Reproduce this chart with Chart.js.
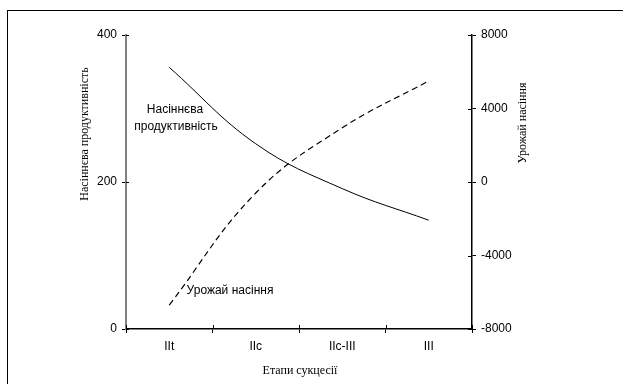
<!DOCTYPE html>
<html>
<head>
<meta charset="utf-8">
<script src="https://cdn.jsdelivr.net/npm/chart.js@4/dist/chart.umd.min.js"></script>
<style>
    html, body { margin: 0; padding: 0; background: #fff; }
    #wrap { width: 623px; height: 384px; }
</style>
</head>
<body>
<div id="wrap"><canvas id="graph_succession" width="623" height="384"></canvas></div>
<script>
// дані з графіка
var stages = ['IIt', 'IIc', 'IIc-III', 'III'];
var seedProductivity = [356, 252, 191, 148];
var seedYield = [-6700, -600, 2950, 5500];
var leftTicks = [0, 200, 400];
var rightTicks = [-8000, -4000, 0, 4000, 8000];

var SANS = '"Liberation Sans", Arial, sans-serif';
var SERIF = '"Liberation Serif", "Times New Roman", serif';

function setTicks(values) {
    return function (scale) {
        scale.ticks = values.map(function (v) { return { value: v }; });
    };
}
function plainNumber(value) {
    return String(value);
}

// рамка, підписи осей, підписи кривих
var decorPlugin = {
    id: 'decor',
    afterDraw: function (chart) {
        var ctx = chart.ctx;
        var area = chart.chartArea;
        var x = chart.scales.x;
        var yR = chart.scales.y2;
        var yL = chart.scales.y;
        ctx.save();

        ctx.strokeStyle = '#000';
        ctx.lineWidth = 1;
        ctx.strokeRect(7.5, 10.5, 700, 500);

        // внутрішні частини рисок
        ctx.beginPath();
        for (var i = 0; i <= stages.length; i++) {
            var px = Math.round(x.getPixelForValue(i - 0.5)) + 0.5;
            ctx.moveTo(px, area.bottom);
            ctx.lineTo(px, area.bottom - 4);
        }
        rightTicks.forEach(function (v) {
            var py = Math.round(yR.getPixelForValue(v)) + 0.5;
            ctx.moveTo(area.right, py);
            ctx.lineTo(area.right - 4, py);
        });
        leftTicks.forEach(function (v) {
            var py = Math.round(yL.getPixelForValue(v)) + 0.5;
            ctx.moveTo(area.left, py);
            ctx.lineTo(area.left + 3, py);
        });
        ctx.stroke();

        ctx.fillStyle = '#000';
        ctx.textAlign = 'center';
        ctx.textBaseline = 'middle';

        ctx.font = '12px ' + SANS;
        ctx.fillText('Насіннєва', 175, 110);
        ctx.fillText('продуктивність', 176, 127);
        ctx.fillText('Урожай насіння', 230, 291);

        ctx.font = '12px ' + SERIF;
        ctx.fillText('Етапи сукцесії', 300, 371);

        ctx.save();
        ctx.translate(85, 134);
        ctx.rotate(-Math.PI / 2);
        ctx.fillText('Насіннєва продуктивність', 0, 0);
        ctx.restore();

        ctx.save();
        ctx.translate(523, 123);
        ctx.rotate(-Math.PI / 2);
        ctx.fillText('Урожай насіння', 0, 0);
        ctx.restore();

        ctx.restore();
    }
};

var ctx = document.getElementById('graph_succession').getContext('2d');
var chart = new Chart(ctx, {
    type: 'line',
    data: {
        labels: stages,
        datasets: [{
            label: 'Насіннєва продуктивність',
            data: seedProductivity,
            yAxisID: 'y',
            borderColor: '#000',
            borderWidth: 1,
            pointRadius: 0,
            tension: 0.4,
            fill: false
        }, {
            label: 'Урожай насіння',
            data: seedYield,
            yAxisID: 'y2',
            borderColor: '#000',
            borderWidth: 1.2,
            borderDash: [6, 4],
            pointRadius: 0,
            tension: 0.4,
            fill: false
        }]
    },
    options: {
        responsive: false,
        animation: false,
        devicePixelRatio: 1,
        layout: { padding: { top: 35, left: 0, right: 0, bottom: 0 } },
        plugins: {
            legend: { display: false },
            tooltip: { enabled: false }
        },
        scales: {
            x: {
                type: 'category',
                offset: true,
                grid: { offset: true, drawOnChartArea: false, tickLength: 4, color: '#000' },
                border: { color: '#000', width: 1.5 },
                ticks: { color: '#000', font: { family: SANS, size: 12 }, padding: 6, maxRotation: 0 },
                afterFit: function (scale) { scale.height = 55; }
            },
            y: {
                position: 'left',
                min: 0,
                max: 400,
                afterBuildTicks: setTicks(leftTicks),
                grid: { drawOnChartArea: false, tickLength: 4, color: '#000' },
                border: { color: '#808080', width: 2 },
                ticks: { color: '#000', font: { family: SANS, size: 12 }, padding: 5, callback: plainNumber },
                afterFit: function (scale) { scale.width = 126; }
            },
            y2: {
                position: 'right',
                min: -8000,
                max: 8000,
                afterBuildTicks: setTicks(rightTicks),
                grid: { drawOnChartArea: false, tickLength: 4, color: '#000' },
                border: { color: '#000', width: 1.5 },
                ticks: { color: '#000', font: { family: SANS, size: 12 }, padding: 5, callback: plainNumber },
                afterFit: function (scale) { scale.width = 151; }
            }
        }
    },
    plugins: [decorPlugin]
});
</script>
</body>
</html>
